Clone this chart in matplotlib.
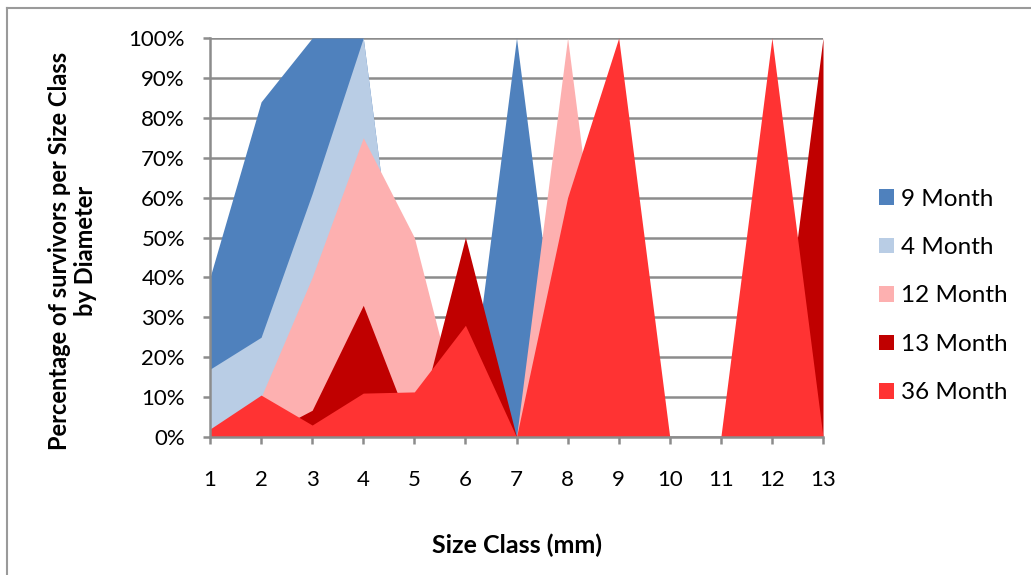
import numpy as np
import matplotlib.pyplot as plt
from matplotlib.patches import Patch

plt.rcParams['font.family'] = ['Lato', 'DejaVu Sans']

# size classes (mm) and survivor percentages per cohort
size_class = np.arange(1, 14)
month_9 = [40, 84, 100, 100, 0, 0, 100, 0, 0, 0, 0, 0, 0]
month_4 = [17, 25, 61, 100, 0, 0, 0, 0, 0, 0, 0, 0, 0]
month_12 = [0, 10, 40, 75, 50, 0, 0, 100, 0, 0, 0, 0, 0]
month_13 = [0, 0, 6.7, 33, 0, 50, 0, 0, 0, 0, 0, 0, 100]
month_36 = [2, 10.5, 3, 11, 11.3, 28, 0, 60, 100, 0, 0, 100, 0]

series = [
    ("9 Month", month_9, "#4f81bd"),
    ("4 Month", month_4, "#b9cde5"),
    ("12 Month", month_12, "#fdb0b0"),
    ("13 Month", month_13, "#c00000"),
    ("36 Month", month_36, "#ff3333"),
]

fig = plt.figure(figsize=(10.31, 5.75), dpi=100)
ax = fig.add_axes([210 / 1031, 138 / 575, 613 / 1031, 399 / 575])

# areas drawn in order, later series on top
for i, (name, vals, col) in enumerate(series):
    ax.fill_between(size_class, np.array(vals) / 100, 0, color=col, lw=0, zorder=2 + i)

ax.set_xlim(1, 13)
ax.set_ylim(0, 1)
ax.set_xticks(size_class)
ax.set_yticks(np.linspace(0, 1, 11))
ax.set_yticklabels([f"{v}%" for v in range(0, 101, 10)])

grid_col = "#8c8c8c"
ax.yaxis.grid(True, color=grid_col, lw=1.8, zorder=0)
ax.set_axisbelow(True)
for s in ["top", "right"]:
    ax.spines[s].set_visible(False)
for s in ["left", "bottom"]:
    ax.spines[s].set_color(grid_col)
    ax.spines[s].set_linewidth(1.8)
    ax.spines[s].set_zorder(10)
ax.tick_params(axis="both", colors=grid_col, width=1.8, length=5, labelcolor="black", labelsize=16)
ax.tick_params(axis="x", pad=19)
ax.tick_params(axis="y", pad=13)

ax.set_ylabel("Percentage of survivors per Size Class\nby Diameter", fontsize=17, fontweight="bold",
              linespacing=1.15)
ax.yaxis.set_label_coords(-0.184, 0.466)
ax.set_xlabel("Size Class (mm)", fontsize=18, fontweight="bold")
ax.xaxis.set_label_coords(0.5, -0.241)

handles = [Patch(facecolor=c, edgecolor="none", label=n) for n, _, c in series]
fig.legend(handles=handles, loc="center left", bbox_to_anchor=(879 / 1031, 1 - 296 / 575),
           frameon=False, fontsize=17.5, handlelength=0.62, handleheight=0.62,
           handletextpad=0.3, labelspacing=1.13, borderaxespad=0, borderpad=0)

# chart frame line along top and left
fig.add_artist(plt.Line2D([7 / 1031, 7 / 1031], [0, 1 - 8 / 575], transform=fig.transFigure,
                          color="#9a9a9a", lw=1.5))
fig.add_artist(plt.Line2D([7 / 1031, 1], [1 - 8 / 575, 1 - 8 / 575], transform=fig.transFigure,
                          color="#9a9a9a", lw=1.5))

fig.savefig("out.png", dpi=100)
